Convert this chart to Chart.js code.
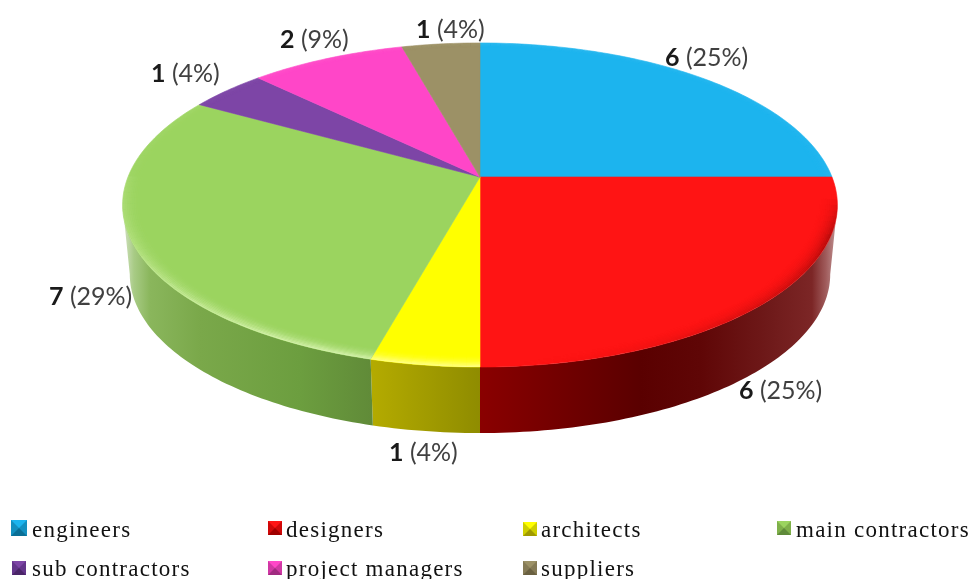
<!DOCTYPE html>
<html>
<head>
<meta charset="utf-8">
<script src="https://cdn.jsdelivr.net/npm/chart.js@4"></script>
<style>
html,body{margin:0;padding:0;background:#fff;overflow:hidden}
canvas{display:block;filter:blur(0.45px)}
</style>
</head>
<body>
<canvas id="c" width="971" height="579"></canvas>
<script>
const categories = ['engineers','designers','architects','main contractors','sub contractors','project managers','suppliers'];
const counts = [6,6,1,7,1,2,1];
const percents = [25,25,4,29,4,9,4];

const topColors = ['#1cb4ee','#ff1414','#ffff00','#9bd45f','#7d45a6','#ff46c8','#9c9166'];
const legendDark = ['#0a6f96','#a00000','#a09a00','#5f8a3a','#4a2568','#a02a80','#6a6040'];
const legendMid = ['#1390c0','#d00808','#cfcf00','#7fb04a','#63358a','#d038a4','#857a55'];
const wallStops = [
  [],
  [[480,'#8a0000'],[560,'#720000'],[640,'#5a0000'],[700,'#5f0606'],[770,'#6f1a1a'],[812,'#7c2626'],[826,'#a05c5c'],[838,'#c49a9a']],
  [[374,'#b3aa00'],[480,'#8f8c00']],
  [[124,'#cfe0bd'],[134,'#a8cb85'],[150,'#8ab65c'],[200,'#7aa84a'],[300,'#6c9e3f'],[374,'#608a38']],
  [],[],[]
];
const rimColors = [[150,225,255],[90,0,0],[255,255,190],[238,255,205],[170,130,210],[255,170,235],[200,190,150]];
const labelX = [665,739,389,49,151,280,416];
const labelY = [66,399,461,305,82,48,38];
const legendTextX = [32,286,541,796,32,286,541];
const legendY = [537,537,537,537,576,576,576];
const legendBoxX = [11,268,523,777,12,268,523];
const legendBoxY = [520,521,522,521,561,561,561];
const legendBoxSize = [16,14,14,14,14,14,14];

// perspective of the disc: pie apex, half width, foreshortening
const apexX = 480, apexY = 177, halfW = 352, persp = 0.1728, vScale = 157.2;
const depthY = 69.8, bottomScale = 0.98;

function project(a, r, bottom) {
  const u = r*Math.cos(a), v = r*Math.sin(a), w = 1 - persp*v;
  const s = bottom ? bottomScale : 1;
  return [apexX + s*halfW*u/w, apexY + (bottom?depthY:0) + s*vScale*v/w];
}
function sliceArc(ctx, a0, a1, r, bottom, move) {
  const n = Math.max(2, Math.ceil(Math.abs(a1-a0)/(Math.PI/180)));
  for (let i=0;i<=n;i++){
    const p = project(a0+(a1-a0)*i/n, r, bottom);
    if (i===0 && move) ctx.moveTo(p[0],p[1]); else ctx.lineTo(p[0],p[1]);
  }
}
function topPath(ctx, arc) {
  ctx.beginPath();
  ctx.moveTo(apexX, apexY);
  sliceArc(ctx, arc.startAngle, arc.endAngle, 1, false, false);
  ctx.closePath();
}
function rimWeight(i, a) {
  const s = Math.sin(a);
  if (i===1) { // darker towards the right, none at the front centre or upper right
    const rise = Math.min(1, Math.max(0, (a - 0.12)/0.25));
    return rise * Math.max(0, Math.min(1, (1 - s)*1.3)) * (a < Math.PI/2 ? 1 : 0);
  }
  if (s < 0) return 0.1;
  return 0.22 + 0.78*Math.min(1, s*1.1);
}

const pie3d = {
  id: 'pie3d',
  beforeDatasetDraw(chart, args) {
    const ctx = chart.ctx;
    const arcs = chart.getDatasetMeta(args.index).data;
    const minA = Math.asin(persp), maxA = Math.PI - minA;
    ctx.save();
    // side wall of the slices facing the viewer
    arcs.forEach((arc, i) => {
      const a0 = Math.max(arc.startAngle, minA), a1 = Math.min(arc.endAngle, maxA);
      if (a1 <= a0) return;
      const g = ctx.createLinearGradient(100,0,860,0);
      wallStops[i].forEach(s => g.addColorStop((s[0]-100)/760, s[1]));
      ctx.fillStyle = g;
      ctx.beginPath();
      sliceArc(ctx, a0, a1, 1, false, true);
      sliceArc(ctx, a1, a0, 1, true, false);
      ctx.closePath();
      ctx.fill();
    });
    // top faces
    arcs.forEach((arc, i) => {
      topPath(ctx, arc);
      ctx.fillStyle = topColors[i];
      ctx.strokeStyle = topColors[i];
      ctx.lineWidth = 0.6;
      ctx.fill();
      ctx.stroke();
    });
    // bevel along the rim
    arcs.forEach((arc, i) => {
      ctx.save();
      topPath(ctx, arc);
      ctx.clip();
      const rings = 13;
      const [r,g,b] = rimColors[i];
      ctx.lineWidth = 1.8;
      for (let j=0;j<rings;j++){
        const rad = 1 - j*0.0048;
        const fade = Math.pow(1 - j/rings, 2.6);
        const steps = Math.ceil((arc.endAngle-arc.startAngle)/(Math.PI/90));
        for (let k=0;k<steps;k++){
          const a = arc.startAngle + (arc.endAngle-arc.startAngle)*k/steps;
          const a2 = arc.startAngle + (arc.endAngle-arc.startAngle)*(k+1)/steps;
          const alpha = 0.55*fade*rimWeight(i,(a+a2)/2);
          const p = project(a, rad, false), q = project(a2, rad, false);
          ctx.strokeStyle = `rgba(${r},${g},${b},${alpha})`;
          ctx.beginPath();
          ctx.moveTo(p[0],p[1]);
          ctx.lineTo(q[0],q[1]);
          ctx.stroke();
        }
      }
      ctx.restore();
    });
    ctx.restore();
    return false;
  },
  afterDraw(chart) {
    const ctx = chart.ctx;
    ctx.save();
    ctx.textAlign = 'left';
    ctx.textBaseline = 'alphabetic';
    // value labels
    counts.forEach((n, i) => {
      const num = String(n), rest = ' (' + percents[i] + '%)';
      ctx.font = 'bold 25px Lato';
      ctx.fillStyle = '#1a1a1a';
      ctx.fillText(num, labelX[i], labelY[i]);
      const w = ctx.measureText(num).width;
      ctx.font = '25px Lato';
      ctx.fillStyle = '#404040';
      ctx.fillText(rest, labelX[i]+w, labelY[i]);
    });
    // legend
    ctx.font = '23px "Liberation Serif"';
    ctx.letterSpacing = '1.25px';
    categories.forEach((name, i) => {
      const x = legendBoxX[i], y = legendBoxY[i], s = legendBoxSize[i];
      ctx.fillStyle = legendMid[i];
      ctx.fillRect(x,y,s,s);
      ctx.fillStyle = topColors[i];
      ctx.beginPath(); ctx.moveTo(x,y); ctx.lineTo(x+s,y); ctx.lineTo(x+s/2,y+s/2); ctx.closePath(); ctx.fill();
      ctx.fillStyle = legendDark[i];
      ctx.beginPath(); ctx.moveTo(x,y+s); ctx.lineTo(x+s,y+s); ctx.lineTo(x+s/2,y+s/2); ctx.closePath(); ctx.fill();
      ctx.fillStyle = '#111';
      ctx.fillText(name, legendTextX[i], legendY[i]);
    });
    ctx.restore();
  }
};

new Chart(document.getElementById('c'), {
  type: 'pie',
  data: { labels: categories, datasets: [{ data: counts, backgroundColor: topColors, borderWidth: 0 }] },
  options: {
    responsive: false,
    animation: false,
    plugins: { legend: { display: false }, tooltip: { enabled: false } }
  },
  plugins: [pie3d]
});
</script>
</body>
</html>
